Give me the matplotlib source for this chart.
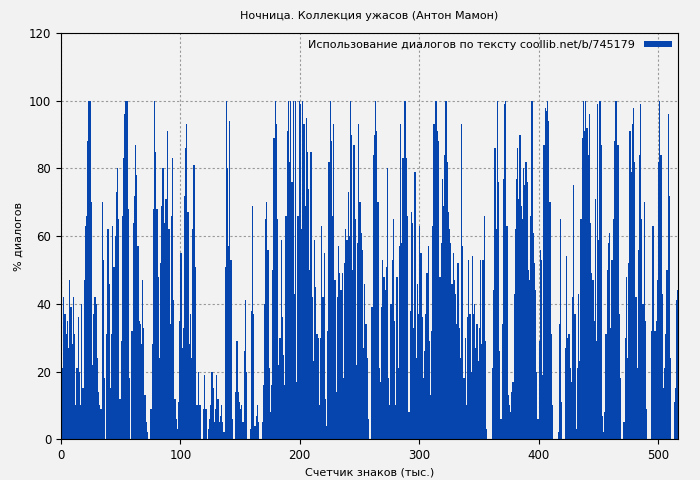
import numpy as np
import matplotlib
matplotlib.use("Agg")
import matplotlib.pyplot as plt

title = "Ночница. Коллекция ужасов (Антон Мамон)"
legend_label = "Использование диалогов по тексту coollib.net/b/745179"
xlabel = "Счетчик знаков (тыс.)"
ylabel = "% диалогов"

seg1 = [0,21,42,37,31,35,27,47,39,28, 42,31,10,21,36,20,10,40,15,47,
        63,66,88,100,100,70,22,37,42,40, 24,14,10,9,70,53,18,0,31,62,
        46,15,31,63,51,60,73,80,65,12, 29,66,83,96,100,100,68,18,0,32,
        64,72,87,78,57,35,34,28,47,33, 13,5,2,0,0,9,28,68,100,85,
        68,48,24,52,69,80,64,71]
seg2 = [71,91,62,34,66,83,41,12,6,3, 11,35,55,27,33,72,86,93,67,28,
        37,24,62,81,51,10,10,20,10,0, 0,9,19,9,0,3,6,10,20,15,
        5,9,19,12,5,7,10,5,2,51, 100,80,57,94,53,6,0,0,14,29,
        14,11,9,10,5,26,41,20,0,0, 3,38,69,37,4,7,10,5,0,0,
        5,16,40,65,70,56,21,8]
seg3 = [16,50,89,100,93,65,22,
        30,59,36,25,16,66,91,100, 82,100,76,100,43,100,17,66,100,99,
        62,100,93,69,95,85,74,50,85,42, 23,59,45,31,30,10,30,63,42,55,
        12,4,32,82,100,88,66,93,47, 14,42,57,49,44,49,18,52,62,59,
        73,60,100,90,50,87,65,22,58,93, 70,61,56,27,46,34,24,6,
        0,0,39,84,90,100]
seg4 = [91,70,21,17,39,53,48,44,51,80, 18,10,40,53,65,35,10,48,21,57,
        93,58,83,100,100,83,66,8,38,67, 64,33,79,24,46,37,63,55,36,18,
        26,37,49,57,29,13,32,63,93,100, 100,91,88,48,58,77,69,84,100,82,
        67,62,58,46,55,47,43,34,52,33, 24,93,57,18,30,10,36,53,37,20,
        54,37,40,27,34,23,33,53]
seg5 = [28,53,66,29,3,0,0,0,0,21, 44,86,62,100,76,26,6,34,77,99,
        100,63,13,10,8,14,17,43,62,77, 86,71,90,69,65,80,75,82,76,50,
        47,66,100,61,52,44,20,6,29,56, 53,19,87,98,97,100,94,70,31,10,
        0,0,0,0,2,34,65,11,0,0, 27,54,30,31,21,17,42,75,37,3,
        21,43,23,65,89,100,91,100, 92,84,96,64,49]
seg6 = [47,35,71,29,99,59,100,87, 7,2,8,31,50,58,61,33,53,
        65,88,100,100,87,37,18,0,0,5, 30,48,24,52,91,79,93,98,82,42,
        21,56,84,99,65,40,70,35,9,0, 0,0,32,63,63,32,35,47,82,
        100,84,43,15,21,31,50,96,72,24, 0,0,11,15,41,44,33,42,72]

values = np.array(seg1 + seg2 + seg3 + seg4 + seg5 + seg6, dtype=float)
x = np.arange(len(values))

bg = "#f2f2f2"
fig = plt.figure(figsize=(7, 4.8), dpi=100, facecolor=bg)
ax = fig.add_axes([0.087, 0.085, 0.882, 0.846], facecolor=bg)
ax.bar(x, values, width=1.0, align="edge", color="#0645ad", linewidth=0,
       label=legend_label, zorder=2)
ax.set_xlim(0, len(values) - 3)
ax.set_ylim(0, 120)
ax.set_xticks([0, 100, 200, 300, 400, 500])
ax.set_yticks(range(0, 121, 20))
ax.grid(True, color="#999999", linestyle=(0, (2, 2)), linewidth=0.8, zorder=3)
ax.tick_params(labelsize=8.5)
ax.set_title(title, fontsize=8, pad=10)
ax.set_xlabel(xlabel, fontsize=8)
ax.set_ylabel(ylabel, fontsize=8)
leg = ax.legend(loc="upper right", frameon=False, fontsize=8, markerfirst=False,
                handlelength=2.5, handleheight=0.4, borderaxespad=0.2)
fig.savefig("out.png", dpi=100, facecolor=bg)
